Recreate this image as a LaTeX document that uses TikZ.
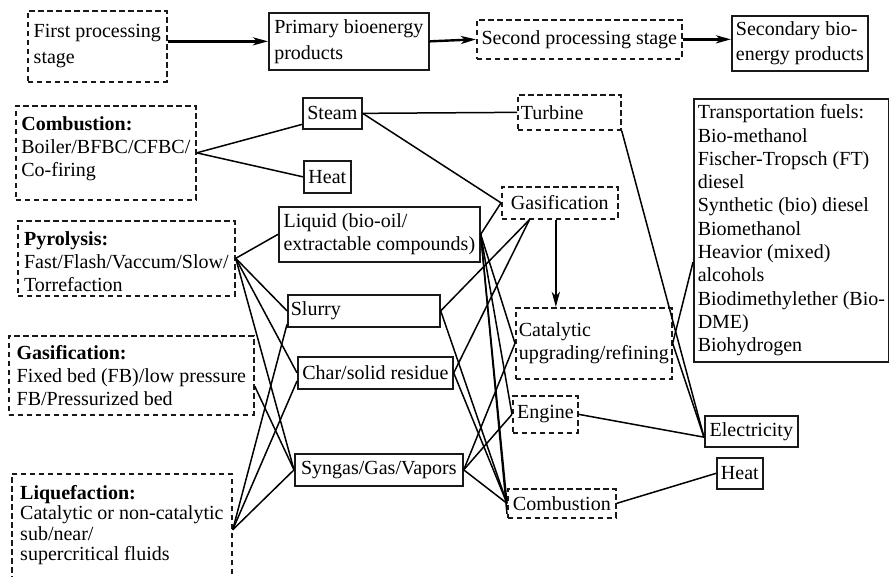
\documentclass[tikz,border=0pt]{standalone}
\usepackage{fontspec}
\setmainfont{Liberation Serif}
\usepackage{tikz}
\usetikzlibrary{arrows.meta}

\tikzset{
  prod/.style={draw=black!90, line width=1.7pt, anchor=north west, align=left,
    inner xsep=3pt, inner ysep=3pt, font=\fontsize{20}{23}\selectfont},
  proc/.style={prod, dash pattern=on 5.5pt off 3.5pt},
  link/.style={black, line width=1.5pt},
  flow/.style={black, line width=2.4pt, -{Stealth[length=15pt,width=8pt,inset=4pt]}}
}

\begin{document}
\begin{tikzpicture}[x=1pt,y=-1pt]
\useasboundingbox (0,0) rectangle (889,576);

\node[proc, minimum width=139, minimum height=71, font=\fontsize{20}{26}\selectfont] (S1) at (27,10) {First processing\\stage};
\node[prod, minimum width=160, minimum height=57, font=\fontsize{20}{26}\selectfont] (P1) at (268,12) {Primary bioenergy\\products};
\node[proc, minimum width=205, minimum height=39] (S2) at (476,19) {Second processing stage};
\node[prod, minimum width=136, minimum height=55, font=\fontsize{20}{25}\selectfont] (P2) at (731,15) {Secondary bio-\\energy products};

\node[proc, minimum width=180, text height=67.6pt, text depth=20.4pt] (comb) at (15,105) {\textbf{Combustion:}\\Boiler/BFBC/CFBC/\\Co-firing};
\node[proc, minimum width=217, text height=67.6pt, text depth=1.4pt] (pyro) at (17,220) {\textbf{Pyrolysis:}\\Fast/Flash/Vaccum/Slow/\\Torrefaction};
\node[proc, minimum width=245, minimum height=79] (gasi) at (8,335) {\textbf{Gasification:}\\Fixed bed (FB)/low pressure\\FB/Pressurized bed};
\node[proc, minimum width=220, text height=84.1pt, text depth=33.4pt, font=\fontsize{20}{20.5}\selectfont] (liqu) at (11,473) {\textbf{Liquefaction:}\\Catalytic or non-catalytic\\sub/near/\\supercritical fluids};

\node[prod, minimum width=59, minimum height=31] (steam) at (302,97) {Steam};
\node[prod, minimum width=47, minimum height=32] (heat) at (303,160) {Heat};
\node[prod, minimum width=201, minimum height=55] (liq) at (278,206) {Liquid (bio-oil/\\extractable compounds)};
\node[prod, minimum height=32, text width=146] (slurry) at (287,294) {Slurry};
\node[prod, minimum width=155, minimum height=32] (char) at (297,356) {Char/solid residue};
\node[prod, minimum width=168, minimum height=32] (syn) at (294,453) {Syngas/Gas/Vapors};

\node[proc, minimum height=35, text width=97] (turb) at (517,94) {Turbine};
\node[proc, minimum width=116, minimum height=32] (gasr) at (501,186) {Gasification};
\node[proc, minimum width=154, minimum height=71] (cat) at (515,307) {Catalytic\\upgrading/refining};
\node[proc, minimum width=65, minimum height=37] (eng) at (512,395) {Engine};
\node[proc, minimum width=108, minimum height=29] (combr) at (507,488) {Combustion};

\node[prod, minimum width=195, minimum height=263, font=\fontsize{20}{23.3}\selectfont] (fuel) at (693,98) {Transportation fuels:\\Bio-methanol\\Fischer-Tropsch (FT)\\diesel\\Synthetic (bio) diesel\\Biomethanol\\Heavior (mixed)\\alcohols\\Biodimethylether (Bio-\\DME)\\Biohydrogen};
\node[prod, minimum width=93, minimum height=31] (elec) at (704,415) {Electricity};
\node[prod, minimum width=46, minimum height=31] (heat2) at (716,457) {Heat};

\draw[flow] (S1.east |- P1.west) -- (P1.west);
\draw[flow] (P1.east) -- (S2.west);
\draw[flow] (S2.east) -- (S2.east -| P2.west);
\coordinate (drop) at ([xshift=-4pt]gasr.south);
\draw[flow] (drop) -- (drop |- cat.north);

\draw (comb.east) edge[link] (steam.200) edge[link] (heat.west);
\draw (pyro.east) edge[link] (liq.west) edge[link] (slurry.west) edge[link] (char.west) edge[link] (syn.west);
\draw (gasi.-5) edge[link] (syn.west);
\draw (liqu.3) edge[link] (slurry.190) edge[link] (char.186) edge[link] (syn.west);

\draw (steam.east) edge[link] (turb.west) edge[link] (gasr.west);
\draw (liq.east) edge[link] (gasr.west) edge[link] (cat.west) edge[link] (eng.west) edge[link] (combr.west) edge[link] (combr.191);
\draw (slurry.east) edge[link] (gasr.209) edge[link] (combr.west);
\draw (char.east) edge[link] (gasr.209) edge[link] (combr.west);
\draw (syn.east) edge[link] (cat.west) edge[link] (eng.west) edge[link] (combr.west);

\draw (turb.south east) edge[link] (elec.187);
\draw (cat.east) edge[link] (fuel.198) edge[link] (elec.187);
\draw (eng.east) edge[link] (elec.187);
\draw (combr.east) edge[link] (heat2.west);
\end{tikzpicture}
\end{document}
